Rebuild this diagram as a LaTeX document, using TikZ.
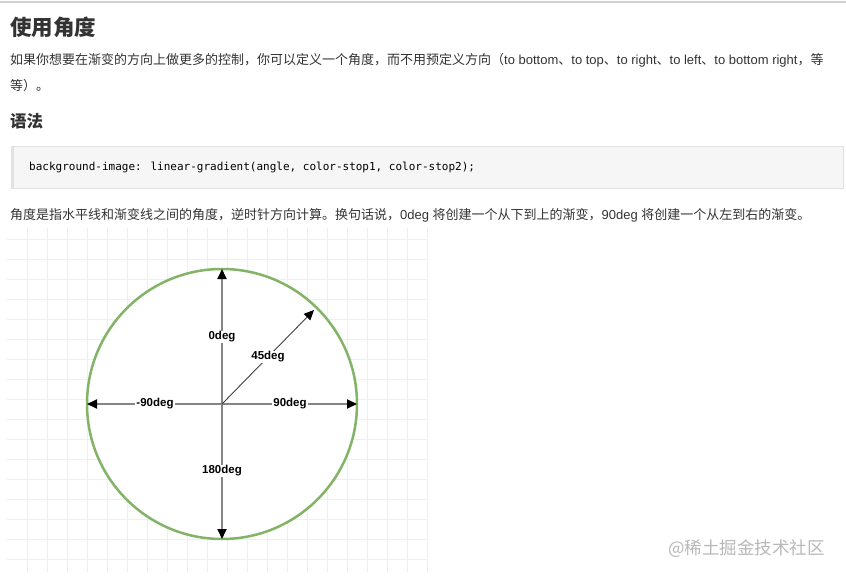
\documentclass[tikz,border=0pt]{standalone}
\usepackage{fontspec}
\setmainfont{Liberation Sans}
\newfontfamily\cjk{Noto Sans CJK SC}
\newfontfamily\mono{DejaVu Sans Mono}
\usetikzlibrary{arrows.meta}
\definecolor{txt}{HTML}{333333}
\definecolor{gridc}{HTML}{EFEFF3}
\definecolor{codebg}{HTML}{F6F6F6}
\definecolor{codeborder}{HTML}{E2E2E2}
\definecolor{greenc}{HTML}{82B366}
\definecolor{arrowgray}{HTML}{858585}
\definecolor{wm}{HTML}{B8B8B8}
\tikzset{
  para/.style={anchor=west, inner sep=0pt, text=txt, font=\fontsize{13}{15}\selectfont},
  degarrow/.style={draw=arrowgray, line width=2pt, -{Triangle[length=10pt,width=9pt,color=black]}},
  deglabel/.style={fill=white, inner sep=1pt, font=\bfseries\fontsize{11.5}{13}\selectfont, text=black},
}
\begin{document}
\begin{tikzpicture}[x=1pt,y=-1pt]
\useasboundingbox (0,0) rectangle (846,578);
\fill[white] (0,0) rectangle (846,578);
% top rule
\draw[draw=black!18, line width=1.5pt] (0,2) -- (846,2);
% heading
\node[para, font=\cjk\bfseries\fontsize{21.5}{24}\selectfont] (h1) at (10,27) {使用角度};
\node[para] (p1) at (10,60) {{\cjk 如果你想要在渐变的方向上做更多的控制，你可以定义一个角度，而不用预定义方向（}to bottom{\cjk 、}to top{\cjk 、}to right{\cjk 、}to left{\cjk 、}to bottom right{\cjk ，等}};
\node[para] (p2) at (10,86) {\cjk 等）。};
\node[para, font=\cjk\bfseries\fontsize{16.5}{19}\selectfont] (h2) at (10,121) {语法};
% code box
\fill[codebg, draw=codeborder, line width=0.8pt] (11,146) rectangle (843,188);
\fill[codeborder] (11,146) rectangle (14,188);
\node[anchor=west, inner sep=0pt, font=\mono\fontsize{11}{13}\selectfont, text=black] (code) at (29,167) {background-image: linear-gradient(angle, color-stop1, color-stop2);};
\node[para] (p3) at (10,215) {{\cjk 角度是指水平线和渐变线之间的角度，逆时针方向计算。换句话说，}0deg {\cjk 将创建一个从下到上的渐变，}90deg {\cjk 将创建一个从左到右的渐变。}};
% grid image
\begin{scope}
\clip (7,228) rectangle (428,572);
\foreach \gx in {27,47,...,427} \draw[gridc, line width=0.8pt] (\gx,228) -- (\gx,572);
\foreach \gy in {239,259,...,571} \draw[gridc, line width=0.8pt] (7,\gy) -- (428,\gy);
\end{scope}
% circle
\node[circle, draw=greenc, line width=2.5pt, fill=white, minimum size=270pt, inner sep=0pt, outer sep=0pt] (circ) at (222,404) {};
\coordinate (c) at (222,404);
\coordinate (d45) at (314,310);
\draw[degarrow] (c) -- (circ.north);
\draw[degarrow] (c) -- (circ.south);
\draw[degarrow] (c) -- (circ.west);
\draw[degarrow] (c) -- (circ.east);
\draw[draw=black!75, line width=0.9pt, -{Triangle[length=10pt,width=9pt,color=black]}] (c) -- (d45);
\node[deglabel] (l0) at (222,337) {0deg};
\node[deglabel] (l45) at (268,357) {45deg};
\node[deglabel] (lm90) at (155,404) {-90deg};
\node[deglabel] (l90) at (290,404) {90deg};
\node[deglabel] (l180) at (222,471) {180deg};
% watermark
\node[anchor=west, inner sep=0pt, text=wm, font=\cjk\fontsize{17.5}{20}\selectfont] (wm) at (668,549) {@稀土掘金技术社区};
\end{tikzpicture}
\end{document}
